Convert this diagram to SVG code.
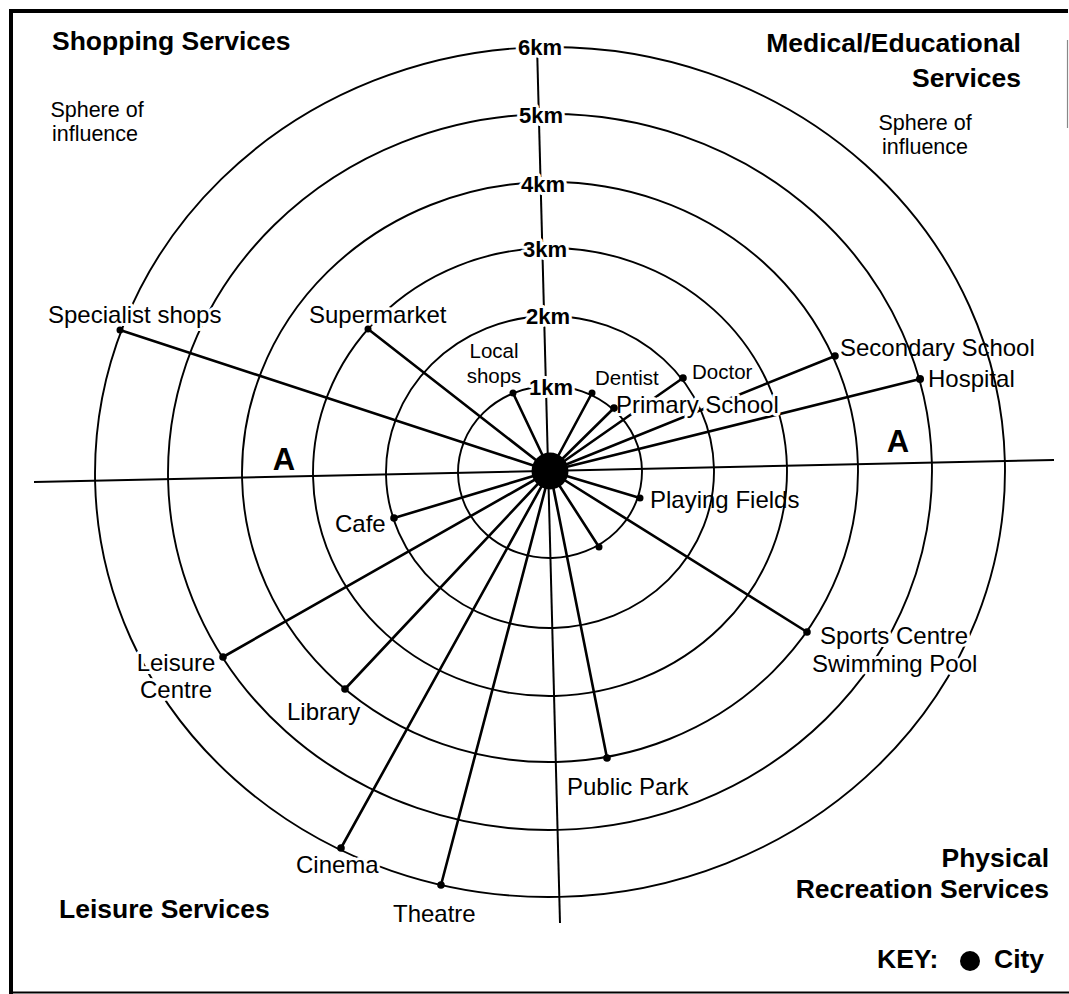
<svg xmlns="http://www.w3.org/2000/svg" width="1069" height="994" viewBox="0 0 1069 994">
  <style>
    text { font-family: "Liberation Sans", Arial, Helvetica, sans-serif; fill: #000; }
    .lbl { font-size: 24px; }
    .sm { font-size: 20.5px; }
    .note { font-size: 21.5px; text-anchor: middle; }
    .head { font-size: 26.5px; font-weight: bold; }
    .end { text-anchor: end; }
    .km { font-size: 22px; font-weight: bold; text-anchor: middle; }
    .sec { font-size: 31px; font-weight: bold; text-anchor: middle; }
    .halo { stroke: #fff; stroke-width: 6; paint-order: stroke; stroke-linejoin: round; }
    .ring { fill: none; stroke: #000; stroke-width: 1.9; }
    .axis { stroke: #000; stroke-width: 2; fill: none; }
    .spoke { stroke: #000; stroke-width: 2.6; stroke-linecap: round; }
    .pt { fill: #000; }
    .frame { stroke: #000; fill: none; }
  </style>

  <rect x="0" y="0" width="1069" height="994" fill="#fff"/>

  <!-- page frame -->
  <g id="frame">
    <line class="frame" x1="9" y1="11" x2="1068" y2="11" stroke-width="4"/>
    <line class="frame" x1="11" y1="9" x2="11" y2="994" stroke-width="4"/>
    <line class="frame" x1="9" y1="992.5" x2="1069" y2="992.5" stroke-width="2"/>
    <line x1="1067.5" y1="40" x2="1067.5" y2="128" stroke="#888" stroke-width="1.2"/>
  </g>

  <!-- distance bands around the city, 1km to 6km -->
  <g id="rings" transform="rotate(-1.3 550 472)">
    <ellipse class="ring" cx="550" cy="472" rx="92" ry="86"/>
    <ellipse class="ring" cx="550" cy="472" rx="164" ry="156"/>
    <ellipse class="ring" cx="550" cy="472" rx="237" ry="224"/>
    <ellipse class="ring" cx="550" cy="472" rx="308" ry="290"/>
    <ellipse class="ring" cx="550" cy="472" rx="382" ry="358"/>
    <ellipse class="ring" cx="550" cy="472" rx="455" ry="425"/>
  </g>

  <!-- section line A-A and the north-south axis -->
  <g id="axes">
    <line class="axis" x1="34" y1="482" x2="1054" y2="460"/>
    <line class="axis" x1="537" y1="45" x2="560" y2="923"/>
  </g>

  <!-- links from the city to each service -->
  <g id="connectors">
    <line class="spoke" x1="550" y1="471" x2="120" y2="330"/>
    <line class="spoke" x1="550" y1="471" x2="368" y2="329"/>
    <line class="spoke" x1="550" y1="471" x2="513" y2="393"/>
    <line class="spoke" x1="550" y1="471" x2="592" y2="393"/>
    <line class="spoke" x1="550" y1="471" x2="614" y2="408"/>
    <line class="spoke" x1="550" y1="471" x2="683" y2="378"/>
    <line class="spoke" x1="550" y1="471" x2="835" y2="356"/>
    <line class="spoke" x1="550" y1="471" x2="920" y2="379"/>
    <line class="spoke" x1="550" y1="471" x2="640" y2="498"/>
    <line class="spoke" x1="550" y1="471" x2="599" y2="547"/>
    <line class="spoke" x1="550" y1="471" x2="807" y2="632"/>
    <line class="spoke" x1="550" y1="471" x2="607" y2="758"/>
    <line class="spoke" x1="550" y1="471" x2="441" y2="885"/>
    <line class="spoke" x1="550" y1="471" x2="341" y2="848"/>
    <line class="spoke" x1="550" y1="471" x2="345" y2="689"/>
    <line class="spoke" x1="550" y1="471" x2="223" y2="657"/>
    <line class="spoke" x1="550" y1="471" x2="394" y2="518"/>
  </g>

  <g id="city">
    <circle cx="550" cy="471" r="18.5" fill="#000"/>
  </g>

  <!-- services -->
  <g id="specialist-shops">
    <text class="lbl halo" x="48" y="323">Specialist shops</text>
    <circle class="pt" cx="120" cy="330" r="3.5"/>
  </g>
  <g id="supermarket">
    <text class="lbl halo" x="309" y="323">Supermarket</text>
    <circle class="pt" cx="368" cy="329" r="3.5"/>
  </g>
  <g id="local-shops">
    <text class="sm" x="494" y="358" text-anchor="middle">Local</text>
    <text class="sm" x="494" y="383" text-anchor="middle">shops</text>
    <circle class="pt" cx="513" cy="393" r="3.5"/>
  </g>
  <g id="dentist">
    <text class="sm" x="595" y="385">Dentist</text>
    <circle class="pt" cx="592" cy="393" r="3.5"/>
  </g>
  <g id="primary-school">
    <text class="lbl halo" x="616" y="413">Primary School</text>
    <circle class="pt" cx="614" cy="408" r="3.8"/>
  </g>
  <g id="doctor">
    <text class="sm" x="692" y="379">Doctor</text>
    <circle class="pt" cx="683" cy="378" r="3.8"/>
  </g>
  <g id="secondary-school">
    <text class="lbl" x="840" y="356">Secondary School</text>
    <circle class="pt" cx="835" cy="356" r="3.8"/>
  </g>
  <g id="hospital">
    <text class="lbl" x="928" y="387">Hospital</text>
    <circle class="pt" cx="920" cy="379" r="4"/>
  </g>
  <g id="playing-fields">
    <text class="lbl" x="650" y="508">Playing Fields</text>
    <circle class="pt" cx="640" cy="498" r="3.5"/>
  </g>
  <g id="open-space">
    <circle class="pt" cx="599" cy="547" r="3.5"/>
  </g>
  <g id="sports-centre">
    <text class="lbl halo" x="820" y="644">Sports Centre</text>
    <text class="lbl halo" x="812" y="672">Swimming Pool</text>
    <circle class="pt" cx="807" cy="632" r="3.8"/>
  </g>
  <g id="public-park">
    <text class="lbl" x="567" y="795">Public Park</text>
    <circle class="pt" cx="607" cy="758" r="3.8"/>
  </g>
  <g id="theatre">
    <text class="lbl" x="393" y="922">Theatre</text>
    <circle class="pt" cx="441" cy="885" r="3.8"/>
  </g>
  <g id="cinema">
    <text class="lbl halo" x="296" y="873">Cinema</text>
    <circle class="pt" cx="341" cy="848" r="3.8"/>
  </g>
  <g id="library">
    <text class="lbl" x="287" y="720">Library</text>
    <circle class="pt" cx="345" cy="689" r="3.8"/>
  </g>
  <g id="leisure-centre">
    <text class="lbl halo" x="176" y="671" text-anchor="middle">Leisure</text>
    <text class="lbl halo" x="176" y="698" text-anchor="middle">Centre</text>
    <circle class="pt" cx="223" cy="657" r="3.8"/>
  </g>
  <g id="cafe">
    <text class="lbl" x="335" y="532">Cafe</text>
    <circle class="pt" cx="394" cy="518" r="3.8"/>
  </g>

  <!-- distance scale -->
  <g id="km-labels">
    <text class="km halo" x="540" y="55">6km</text>
    <text class="km halo" x="541" y="123">5km</text>
    <text class="km halo" x="543" y="192">4km</text>
    <text class="km halo" x="545" y="257">3km</text>
    <text class="km halo" x="548" y="324">2km</text>
    <text class="km halo" x="551" y="395">1km</text>
  </g>

  <!-- section line markers -->
  <g id="section-a">
    <text class="sec" x="284" y="470">A</text>
    <text class="sec" x="898" y="452">A</text>
  </g>

  <!-- quadrant headings -->
  <g id="headings">
    <text class="head" x="52" y="50">Shopping Services</text>
    <text class="note" x="97" y="117">Sphere of</text>
    <text class="note" x="95" y="141">influence</text>

    <text class="head end" x="1021" y="52">Medical/Educational</text>
    <text class="head end" x="1021" y="87">Services</text>
    <text class="note" x="925" y="130">Sphere of</text>
    <text class="note" x="925" y="154">influence</text>

    <text class="head" x="59" y="918">Leisure Services</text>

    <text class="head end" x="1049" y="867">Physical</text>
    <text class="head end" x="1049" y="898">Recreation Services</text>
  </g>

  <!-- key -->
  <g id="key">
    <text class="head" x="877" y="968">KEY:</text>
    <circle cx="970" cy="961" r="10" fill="#000"/>
    <text class="head" x="994" y="968">City</text>
  </g>
</svg>
